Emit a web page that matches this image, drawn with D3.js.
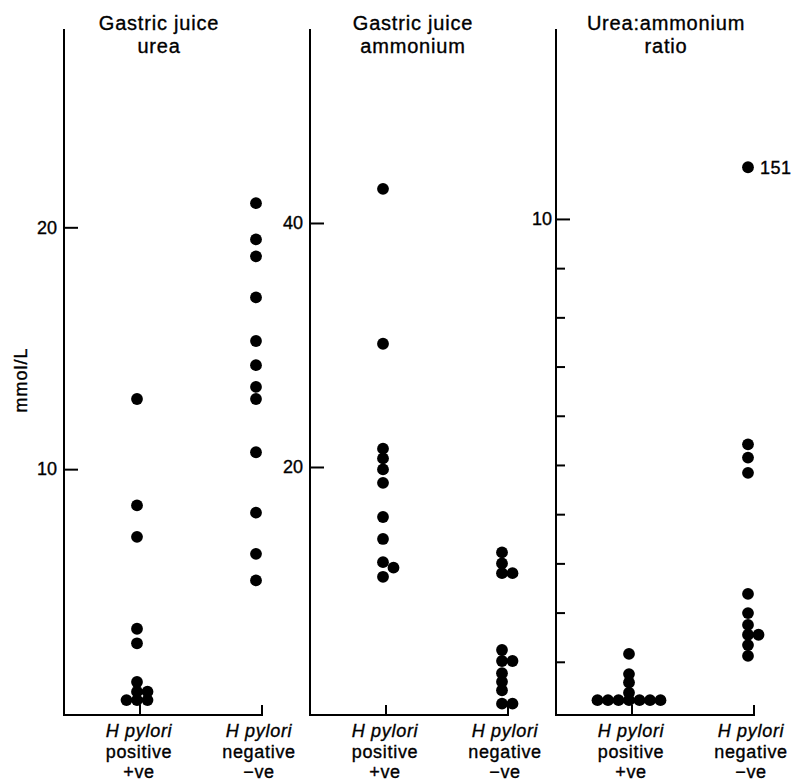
<!DOCTYPE html>
<html>
<head>
<meta charset="utf-8">
<script src="https://cdn.jsdelivr.net/npm/d3@7"></script>
<style>
  html, body { margin: 0; padding: 0; background: #fff; }
  svg { display: block; font-family: "Liberation Sans", Arial, Helvetica, sans-serif; }
  svg text { stroke: #000; stroke-width: 0.35px; }
</style>
</head>
<body>
<svg id="chart" width="794" height="781"></svg>
<script>
// ---------------- data ----------------
const categories = ["positive", "negative"];
const categoryLabels = [["H pylori", "positive", "+ve"], ["H pylori", "negative", "\u2212ve"]];

const panelTitles = [["Gastric juice", "urea"], ["Gastric juice", "ammonium"], ["Urea:ammonium", "ratio"]];
const yAxisLabel = "mmol/L";

const ureaPositive = [12.9, 8.5, 7.2, 3.4, 2.8, 1.2, 0.8, 0.8, 0.45, 0.45, 0.45];
const ureaNegative = [21.0, 19.5, 18.8, 17.1, 15.3, 14.3, 13.4, 12.9, 10.7, 8.2, 6.5, 5.4];

const ammoniumPositive = [42.8, 30.1, 21.5, 20.7, 19.8, 18.7, 15.9, 14.1, 12.2, 11.75, 11.0];
const ammoniumNegative = [13.0, 12.1, 11.3, 11.3, 5.0, 4.1, 4.1, 3.1, 2.4, 1.7, 0.6, 0.6];

const ratioPositive = [1.16, 0.75, 0.58, 0.37, 0.22, 0.22, 0.22, 0.22, 0.22, 0.22, 0.22];
const ratioNegative = [151, 5.42, 5.15, 4.84, 2.38, 1.99, 1.75, 1.55, 1.55, 1.34, 1.12];

const labelledTicks = [[10, 20], [20, 40], [10]];
const minorTicks = [[], [], [1, 2, 3, 4, 5, 6, 7, 8, 9]];
const axisMax = [28.2, 55.9, 13.86];
const offScaleAt = 11.05; // where the off-scale ratio value (151) is drawn

// ---------------- layout ----------------
const W = 794, H = 781;
const zeroY = 711, topY = 29, baseY = 715;
const panelX = [64, 310, 556];
const titleDX = [95, 103, 110];
const axisEnd = 198;
const r = 5.9, laneW = 10.5, minGap = 6.5;

const svg = d3.select("#chart");
const seriesByPanel = [[ureaPositive, ureaNegative], [ammoniumPositive, ammoniumNegative], [ratioPositive, ratioNegative]];

// dodge: stack dots vertically; when too close to the last dot in a lane, move sideways
function dodge(values, y) {
  const sorted = values.map(v => ({v})).sort((a, b) => b.v - a.v);
  const lanes = new Map();
  const order = [0, 1, -1, 2, -2, 3, -3, 4, -4];
  sorted.forEach(d => {
    const yy = y(d.v > y.domain()[1] ? offScaleAt : d.v);
    d.py = yy;
    for (const l of order) {
      const last = lanes.get(l);
      if (last === undefined || Math.abs(yy - last) >= minGap) {
        d.lane = l; lanes.set(l, yy); break;
      }
    }
  });
  return sorted;
}

seriesByPanel.forEach((series, i) => {
  const g = svg.append("g").attr("transform", `translate(${panelX[i]},0)`);
  const y = d3.scaleLinear().domain([0, axisMax[i]]).range([zeroY, topY]);
  const x = d3.scalePoint().domain(categories).range([73, 192]);

  // frame: y-axis line + x-axis line with end tick
  g.append("path")
    .attr("d", `M0,${topY}V${baseY}H${axisEnd}V${baseY - 10}`)
    .attr("fill", "none").attr("stroke", "#000").attr("stroke-width", 2);
  // positive category tick
  g.append("line")
    .attr("x1", x("positive") + 3).attr("x2", x("positive") + 3)
    .attr("y1", baseY).attr("y2", baseY - 10)
    .attr("stroke", "#000").attr("stroke-width", 2);

  // y axes
  if (minorTicks[i].length) {
    const minor = g.append("g").call(d3.axisLeft(y).tickValues(minorTicks[i]).tickSize(-9).tickFormat(""));
    minor.select(".domain").remove();
    minor.selectAll("line").attr("stroke-width", 2);
  }
  const major = g.append("g").call(
    d3.axisLeft(y).tickValues(labelledTicks[i]).tickSize(-14).tickPadding(i === 2 ? 4 : 7).tickFormat(d3.format("d")));
  major.select(".domain").remove();
  major.selectAll("line").attr("stroke-width", 2);
  major.selectAll("text").attr("font-size", 18).attr("fill", "#000")
    .attr("font-family", "Liberation Sans, Arial, sans-serif");

  // titles
  const t = g.append("text").attr("text-anchor", "middle").attr("font-size", 20)
    .attr("letter-spacing", 0.8).attr("fill", "#000");
  panelTitles[i].forEach((line, k) => {
    t.append("tspan").attr("x", titleDX[i]).attr("y", 30 + k * 23).text(line);
  });

  // category labels
  categories.forEach((c, ci) => {
    const cx = x(c) + (ci === 0 ? 2 : 3);
    const tl = g.append("text").attr("text-anchor", "middle").attr("font-size", 18)
      .attr("letter-spacing", 0.7).attr("fill", "#000");
    categoryLabels[ci].forEach((line, k) => {
      tl.append("tspan").attr("x", cx).attr("y", 737 + k * 20.5)
        .attr("font-style", k === 0 ? "italic" : "normal").text(line);
    });
  });

  // dots
  series.forEach((vals, ci) => {
    const pts = dodge(vals, y);
    g.selectAll(null).data(pts).enter().append("circle")
      .attr("cx", d => x(categories[ci]) + d.lane * laneW)
      .attr("cy", d => d.py)
      .attr("r", r).attr("fill", "#000");
    pts.filter(d => d.v > axisMax[i]).forEach(d => {
      g.append("text").attr("x", x(categories[ci]) + d.lane * laneW + 12).attr("y", d.py + 6.5)
        .attr("font-size", 18).attr("letter-spacing", 0.5).attr("fill", "#000").text(d.v);
    });
  });
});

// y axis label
svg.append("text")
  .attr("transform", "translate(27,380) rotate(-90)")
  .attr("text-anchor", "middle").attr("font-size", 18).attr("letter-spacing", 1)
  .attr("fill", "#000").text(yAxisLabel);
</script>
</body>
</html>
